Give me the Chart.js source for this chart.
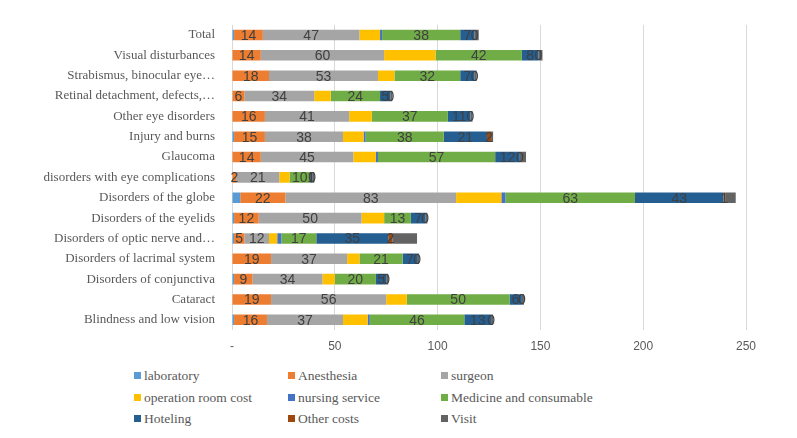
<!DOCTYPE html>
<html lang="en">
<head>
<meta charset="UTF-8">
<title>Cost components by eye disorder</title>
<script src="https://cdn.jsdelivr.net/npm/chart.js"></script>
<style>
    body { margin: 0; background: #fff; }
    .wrap { position: relative; width: 797px; height: 438px; overflow: hidden; }
    .chartBox { position: absolute; left: 0; top: 0; width: 797px; height: 360px; }
    #legend { position: absolute; left: 134px; top: 368px; display: grid; grid-template-columns: 154px 153px 200px; row-gap: 0; }
    #legend div { height: 21.5px; line-height: 21.5px; font: 13.5px 'Liberation Serif', serif; color: #595959; white-space: nowrap; }
    #legend span { display: inline-block; width: 7px; height: 7px; margin-right: 3px; vertical-align: 1px; }
</style>
</head>
<body>
<div class="wrap">
    <div class="chartBox"><canvas id="costChart" width="797" height="360"></canvas></div>
    <div id="legend"></div>
</div>
<script>
// categories, top to bottom
const categories = [
    'Total',
    'Visual disturbances',
    'Strabismus, binocular eye\u2026',
    'Retinal detachment, defects,\u2026',
    'Other eye disorders',
    'Injury and burns',
    'Glaucoma',
    'disorders with eye complications',
    'Disorders of the globe',
    'Disorders of the eyelids',
    'Disorders of optic nerve and\u2026',
    'Disorders of lacrimal system',
    'Disorders of conjunctiva',
    'Cataract',
    'Blindness and low vision'
];

const laboratory    = [1, 0, 0, 0, 0, 1, 0, 0, 4, 1, 1, 0, 1, 0, 1];
const anesthesia    = [14, 14, 18, 6, 16, 15, 14, 2, 22, 12, 5, 19, 9, 19, 16];
const surgeon       = [47, 60, 53, 34, 41, 38, 45, 21, 83, 50, 12, 37, 34, 56, 37];
const operationRoom = [10, 25, 8, 8, 11, 10, 11, 5, 22, 11, 4, 6, 6, 10, 12];
const nursing       = [1, 0, 0, 0, 0, 1, 1, 0, 2, 0, 2, 0, 0, 0, 1];
const medicine      = [38, 42, 32, 24, 37, 38, 57, 10, 63, 13, 17, 21, 20, 50, 46];
const hoteling      = [7, 8, 7, 5, 11, 21, 12, 1, 43, 7, 35, 7, 5, 6, 13];
const otherCosts    = [0, 0, 0, 0, 0, 2, 0, 0, 1, 0, 2, 0, 0, 0, 0];
const visit         = [2, 2, 1, 1, 1, 1, 3, 1, 5, 1, 12, 1, 1, 1, 1];

const xTicks = [0, 50, 100, 150, 200, 250];

// series shown with value labels in the original
const labelled = ['Anesthesia', 'surgeon', 'Medicine and consumable', 'Hoteling', 'Other costs'];

const series = [
    ['laboratory', laboratory, '#5B9BD5'],
    ['Anesthesia', anesthesia, '#ED7D31'],
    ['surgeon', surgeon, '#A5A5A5'],
    ['operation room cost', operationRoom, '#FFC000'],
    ['nursing service', nursing, '#4472C4'],
    ['Medicine and consumable', medicine, '#70AD47'],
    ['Hoteling', hoteling, '#255E91'],
    ['Other costs', otherCosts, '#9E480E'],
    ['Visit', visit, '#636363']
];

const valueLabels = {
    id: 'valueLabels',
    afterDatasetsDraw(chart) {
        const ctx = chart.ctx;
        ctx.save();
        ctx.font = '14px "Liberation Sans", sans-serif';
        ctx.fillStyle = '#404040';
        ctx.textAlign = 'center';
        ctx.textBaseline = 'middle';
        chart.data.datasets.forEach((ds, i) => {
            if (!labelled.includes(ds.label)) return;
            chart.getDatasetMeta(i).data.forEach((el, j) => {
                const x = (el.x + el.base) / 2;
                ctx.fillText(String(ds.data[j]), x, el.y + 1);
            });
        });
        ctx.restore();
    }
};

const chart = new Chart(document.getElementById('costChart'), {
    type: 'bar',
    data: {
        labels: categories,
        datasets: series.map(s => ({
            label: s[0],
            data: s[1],
            backgroundColor: s[2],
            borderWidth: 0,
            barPercentage: 0.52,
            categoryPercentage: 1
        }))
    },
    options: {
        indexAxis: 'y',
        responsive: false,
        animation: false,
        layout: { padding: { top: 23, right: 51, bottom: 0, left: 0 } },
        plugins: {
            legend: { display: false },
            tooltip: { enabled: false }
        },
        scales: {
            x: {
                stacked: true,
                min: 0,
                max: 250,
                afterBuildTicks: scale => { scale.ticks = xTicks.map(v => ({ value: v })); },
                afterFit: scale => { scale.height = 30; },
                grid: { color: '#d9d9d9', drawTicks: false },
                border: { display: false },
                ticks: {
                    padding: 9,
                    color: '#595959',
                    font: { family: 'Liberation Sans', size: 12 },
                    callback: v => v === 0 ? '-' : v
                }
            },
            y: {
                stacked: true,
                afterFit: scale => { scale.width = 232; },
                grid: { display: false, drawTicks: false },
                border: { display: false },
                ticks: {
                    padding: 17,
                    autoSkip: false,
                    color: '#595959',
                    font: { family: 'Liberation Serif', size: 13 }
                }
            }
        }
    },
    plugins: [valueLabels]
});

// legend in three columns like the original
const legend = document.getElementById('legend');
chart.data.datasets.forEach(ds => {
    const item = document.createElement('div');
    const box = document.createElement('span');
    box.style.background = ds.backgroundColor;
    item.appendChild(box);
    item.appendChild(document.createTextNode(ds.label));
    legend.appendChild(item);
});
</script>
</body>
</html>
